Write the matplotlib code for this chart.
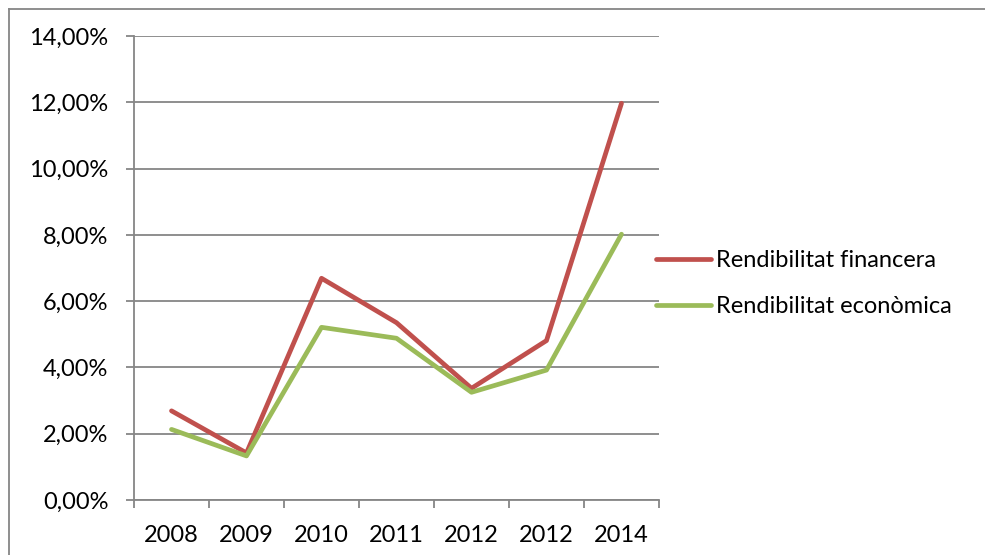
import matplotlib
matplotlib.use("Agg")
import matplotlib.pyplot as plt
from matplotlib.lines import Line2D
import numpy as np

categories = ["2008", "2009", "2010", "2011", "2012", "2012", "2014"]
financera = [2.69, 1.42, 6.69, 5.35, 3.37, 4.81, 11.97]
economica = [2.13, 1.33, 5.21, 4.88, 3.25, 3.92, 8.02]
series_names = ["Rendibilitat financera", "Rendibilitat econòmica"]
yticks = [0, 2, 4, 6, 8, 10, 12, 14]

plt.rcParams['font.family'] = ['Lato', 'DejaVu Sans']

W, H = 985, 555
FS = 17
fig = plt.figure(figsize=(W / 100, H / 100), dpi=100)
ax = fig.add_axes([134 / W, (H - 500) / H, (659 - 134) / W, (500 - 36) / H])

grid_c = "#868686"
x = np.arange(len(categories))
ax.plot(x, financera, color="#C0504D", lw=3.4, solid_joinstyle="round",
        solid_capstyle="round", label=series_names[0], zorder=3)
ax.plot(x, economica, color="#9BBB59", lw=3.4, solid_joinstyle="round",
        solid_capstyle="round", label=series_names[1], zorder=3)

ax.set_xlim(-0.5, len(categories) - 0.5)
ax.set_ylim(0, 14)
ax.set_yticks(yticks)
ax.set_yticklabels([f"{v:.2f}".replace(".", ",") + "%" for v in yticks])
ax.yaxis.grid(True, color=grid_c, lw=1.3)
ax.set_axisbelow(True)

ax.set_xticks(x)
ax.set_xticklabels(categories)
ax.set_xticks(np.arange(-0.5, len(categories)), minor=True)
ax.tick_params(axis="x", which="major", length=0, pad=18, labelsize=FS, colors="black")
ax.tick_params(axis="x", which="minor", length=6, width=1.3, color=grid_c, direction="out")
ax.tick_params(axis="y", length=6, width=1.3, color=grid_c, pad=12.5, labelsize=FS)

for s in ["top", "right"]:
    ax.spines[s].set_visible(False)
for s in ["left", "bottom"]:
    ax.spines[s].set_color(grid_c)
    ax.spines[s].set_linewidth(1.3)

leg = fig.legend(loc="center left", bbox_to_anchor=(656 / W, (H - 283.5) / H),
                 frameon=False, fontsize=FS, handlelength=2.35, borderpad=0,
                 borderaxespad=0, handletextpad=0.2, labelspacing=1.05)

# chart border
fig.add_artist(Line2D([8.5 / W, 8.5 / W], [0, (H - 8.5) / H], color=grid_c, lw=1.3,
                      transform=fig.transFigure))
fig.add_artist(Line2D([8.5 / W, 1], [(H - 8.5) / H, (H - 8.5) / H], color=grid_c, lw=1.3,
                      transform=fig.transFigure))

fig.savefig("out.png", dpi=100)
